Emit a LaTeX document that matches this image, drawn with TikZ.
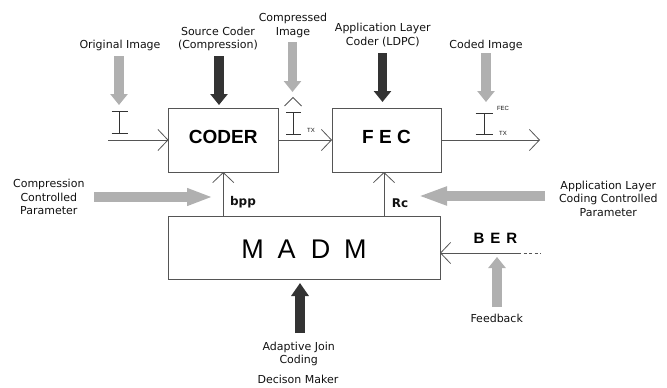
\documentclass[tikz,border=0pt]{standalone}
\usepackage{fontspec}
\setmainfont{DejaVu Sans}
\newfontfamily\arialf{Liberation Sans}
\usetikzlibrary{arrows.meta}
\definecolor{lightarrow}{HTML}{B0B0B0}
\definecolor{darkarrow}{HTML}{333333}
\definecolor{linec}{HTML}{555555}
\definecolor{txt}{HTML}{111111}
\begin{document}
\begin{tikzpicture}[x=1pt,y=-1pt,
  box/.style={draw=linec, line width=0.9pt, inner sep=0pt, outer sep=0pt},
  flow/.style={draw=linec, line width=0.8pt, -{Straight Barb[length=10pt,width=21pt]}},
  ibeam/.style={draw=darkarrow, line width=0.9pt},
  lbl/.style={font=\fontsize{11}{13.4}\selectfont, text=txt, align=center, inner sep=0pt},
  blk/.style={font=\arialf\bfseries\fontsize{19}{22}\selectfont, text=black},
  small/.style={font=\arialf\fontsize{6}{7}\selectfont, inner sep=0pt, text=txt},
  garrow/.style={draw=lightarrow, line width=9.5pt, -{Triangle[width=17pt,length=11pt]}},
  darrow/.style={draw=darkarrow, line width=9.5pt, -{Triangle[width=17pt,length=11pt]}},
]
\useasboundingbox (0,0) rectangle (667,388);

% boxes
\node[box, blk, minimum width=109.5pt, minimum height=64pt, text height=13.6pt, text depth=7pt] (coder) at (223.25,140) {CODER};
\node[box, blk, minimum width=109pt, minimum height=64pt, text height=13.6pt, text depth=7pt] (fec) at (386.5,140) {F E C\hspace{6pt}};
\node[box, font=\arialf\fontsize{27}{30}\selectfont, text=black, minimum width=272pt, minimum height=63pt, text height=21.6pt, text depth=0pt] (madm) at (304,247.5) {M\hspace{14pt}A\hspace{15pt}D\hspace{14pt}M\hspace{10pt}};

% labels
\node[lbl, anchor=base] (origtxt) at (120,48.3) {Original Image};
\node[lbl, anchor=north] (srctxt) at (218,26.7) {Source Coder\\(Compression)};
\node[lbl, anchor=north] (comptxt) at (293,13.3) {Compressed\\Image};
\node[lbl, anchor=north] (alctxt) at (382.8,23.3) {Application Layer\\Coder (LDPC)};
\node[lbl, anchor=base] (codedtxt) at (486,48.3) {Coded Image};
\node[lbl, anchor=north] (cparam) at (48.8,179.3) {Compression\\Controlled\\Parameter};
\node[lbl, anchor=north] (aparam) at (608.3,180.7) {Application Layer\\Coding Controlled\\Parameter};
\node[lbl, anchor=base] (fbtxt) at (496.7,322) {Feedback};
\node[lbl, anchor=north] (ajc) at (298.7,341.7) {Adaptive Join\\Coding};
\node[lbl, anchor=base] (dm) at (298,383.7) {Decison Maker};
\node[lbl, anchor=base, font=\bfseries\fontsize{12}{14}\selectfont] (bpp) at (243,205) {bpp};
\node[lbl, anchor=base, font=\bfseries\fontsize{12}{14}\selectfont] (rc) at (400,207.5) {Rc};
\node[anchor=base, inner sep=0pt, text=black, font=\arialf\bfseries\fontsize{15}{17}\selectfont] (ber) at (495.5,243.3) {B\hspace{0.4em}E\hspace{0.4em}R};
\node[small, anchor=base] (tx1) at (311,132.7) {TX};
\node[small, anchor=base] (fecs) at (503,110.7) {FEC};
\node[small, anchor=base] (tx2) at (503,135) {TX};

% free ends
\coordinate (in) at (108,140);
\coordinate (out) at (540,140);
\coordinate (berend) at (518,253);
\coordinate (berdash) at (541,253);

% flow connectors
\draw[flow] (in) -- (coder.west);
\draw[flow] (coder.east) -- (fec.west);
\draw[flow] (fec.east) -- (out);
\draw[flow] (coder.south |- madm.north) -- (coder.south);
\draw[flow] ([xshift=-2.5pt]fec.south |- madm.north) -- ([xshift=-2.5pt]fec.south);
\draw[flow] (berend) -- (madm.east |- berend);
\draw[linec, line width=0.8pt, dash pattern=on 3pt off 2.5pt] (berend) -- (berdash);

% I-beam symbols
\draw[ibeam] (111.5,111) -- (127.5,111) (119.5,111) -- (119.5,133.3) (111.5,133.3) -- (127.5,133.3);
\draw[ibeam] (286,112) -- (301,112) (293.5,112) -- (293.5,134) (286,134) -- (301,134);
\draw[ibeam] (475.5,113.3) -- (492.5,113.3) (484,113.3) -- (484,134.3) (475.5,134.3) -- (492.5,134.3);
\draw[linec, line width=0.8pt] (284.5,106) -- (293,97.5) -- (301.5,106);

% block arrows
\coordinate (a1s) at (119,56);   \coordinate (a1e) at (119,105);
\coordinate (a2s) at (219,56);   \coordinate (a2e) at (219,105);
\coordinate (a3s) at (292.5,42); \coordinate (a3e) at (292.5,92);
\coordinate (a4s) at (382.5,53); \coordinate (a4e) at (382.5,102);
\coordinate (a5s) at (486,53);   \coordinate (a5e) at (486,102);
\coordinate (a6s) at (94,197);   \coordinate (a6e) at (213,197);
\coordinate (a7s) at (545,196);  \coordinate (a7e) at (418,196);
\coordinate (a8s) at (497,307);  \coordinate (a8e) at (497,257);
\coordinate (a9s) at (300,333);  \coordinate (a9e) at (300,283);
\draw[garrow] (a1s) -- (a1e);
\draw[darrow] (a2s) -- (a2e);
\draw[garrow] (a3s) -- (a3e);
\draw[darrow] (a4s) -- (a4e);
\draw[garrow] (a5s) -- (a5e);
\draw[garrow, -{Triangle[width=16pt,length=26pt]}] (a6s) -- (a6e);
\draw[garrow, -{Triangle[width=17pt,length=29pt]}] (a7s) -- (a7e);
\draw[garrow] (a8s) -- (a8e);
\draw[darrow, -{Triangle[width=17pt,length=13pt]}] (a9s) -- (a9e);
\end{tikzpicture}
\end{document}
